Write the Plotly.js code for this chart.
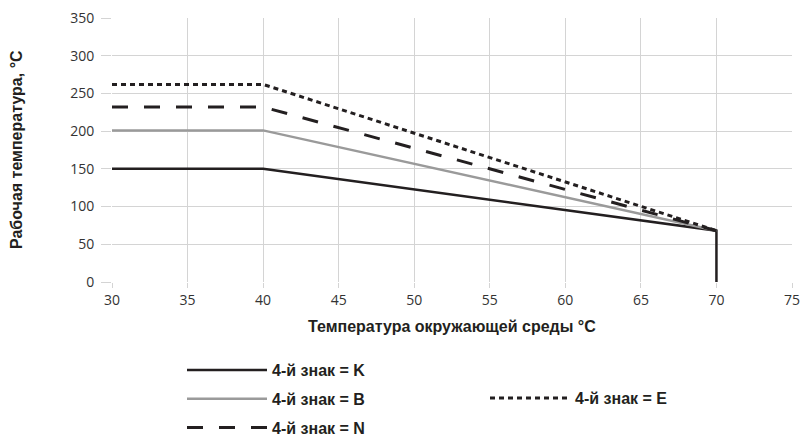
<!DOCTYPE html>
<html><head><meta charset="utf-8">
<script src="https://cdn.plot.ly/plotly-3.0.1.min.js"></script>
<style>html,body{margin:0;padding:0;background:#fff}#chart{width:803px;height:439px}</style>
</head><body><div id="chart"></div>
<script>
const xK = [30, 40, 70, 70];
const yK = [150, 150, 68, 0];
const xB = [30, 40, 70];
const yB = [201, 201, 68];
const xN = [30, 40, 70];
const yN = [232, 232, 68];
const xE = [30, 40, 70];
const yE = [262, 262, 68];
const names = ['4-й знак = K', '4-й знак = B', '4-й знак = N', '4-й знак = E'];
const xTitle = 'Температура окружающей среды °C';
const yTitle = 'Рабочая температура, °C';

const traces = [
  {x: xK, y: yK, name: names[0], mode: 'lines', line: {color: '#231f20', width: 2.5}, legend: 'legend', legendgroup: 'a'},
  {x: xB, y: yB, name: names[1], mode: 'lines', line: {color: '#9a9a9a', width: 2.5}, legend: 'legend', legendgroup: 'b'},
  {x: xN, y: yN, name: names[2], mode: 'lines', line: {color: '#231f20', width: 3, dash: '16px,16px'}, legend: 'legend', legendgroup: 'c'},
  {x: xE, y: yE, name: names[3], mode: 'lines', line: {color: '#231f20', width: 3, dash: '5px,4px'}, legend: 'legend2'}
];

const boldFont = {family: 'Liberation Sans, Arial, sans-serif', size: 16, color: '#231f20', weight: 'bold'};
const tickFont = {family: 'Open Sans, Noto Sans, sans-serif', size: 14, color: '#333'};
const layout = {
  width: 803, height: 439,
  margin: {l: 112, r: 11, t: 18, b: 157, autoexpand: false},
  paper_bgcolor: '#fff', plot_bgcolor: '#fff',
  font: tickFont,
  xaxis: {
    range: [30, 75], dtick: 5, tick0: 30,
    showgrid: true, gridcolor: '#d4d4d4', gridwidth: 1,
    zeroline: false, showline: false, automargin: false,
    ticks: 'outside', ticklen: 5, tickcolor: '#d4d4d4',
    tickfont: tickFont
  },
  yaxis: {
    range: [0, 350], dtick: 50,
    showgrid: true, gridcolor: '#d4d4d4', gridwidth: 1,
    zeroline: false, showline: false, automargin: false,
    ticks: 'outside', ticklen: 10, tickcolor: '#d4d4d4', ticklabelstandoff: 4,
    tickfont: tickFont
  },
  annotations: [
    {text: yTitle, xref: 'paper', yref: 'paper', x: (16 - 112) / 680, y: 0.5,
     xanchor: 'center', yanchor: 'middle', textangle: -90, showarrow: false, font: boldFont},
    {text: xTitle, xref: 'paper', yref: 'paper', x: 0.5, y: -(326 - 282) / 264,
     xanchor: 'center', yanchor: 'middle', showarrow: false, font: boldFont}
  ],
  showlegend: true,
  legend: {
    xref: 'container', yref: 'container', x: 182/803, y: 1 - 353/439,
    xanchor: 'left', yanchor: 'top', bgcolor: 'rgba(0,0,0,0)',
    font: boldFont, itemwidth: 80, traceorder: 'grouped', tracegroupgap: 5, itemclick: false
  },
  legend2: {
    xref: 'container', yref: 'container', x: 485/803, y: 1 - 381/439,
    xanchor: 'left', yanchor: 'top', bgcolor: 'rgba(0,0,0,0)',
    font: boldFont, itemwidth: 80
  }
};
Plotly.newPlot('chart', traces, layout, {displayModeBar: false, staticPlot: true});
</script></body></html>
